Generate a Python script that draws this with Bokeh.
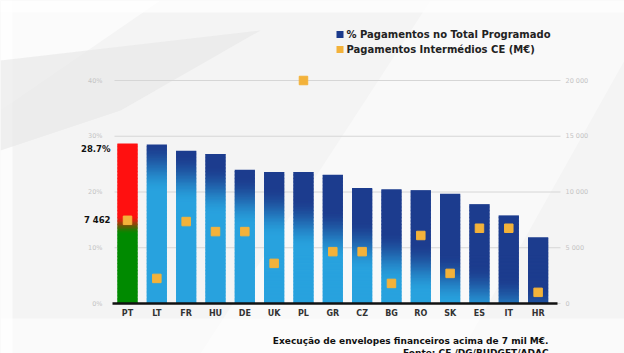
from bokeh.plotting import figure
from bokeh.models import Range1d, ColumnDataSource
from bokeh.core.properties import value
from bokeh.embed import file_html
from bokeh.resources import INLINE

cats = ["PT", "LT", "FR", "HU", "DE", "UK", "PL", "GR", "CZ", "BG", "RO", "SK", "ES", "IT", "HR"]
pct = [28.7, 28.5, 27.4, 26.8, 24.0, 23.6, 23.6, 23.1, 20.7, 20.5, 20.3, 19.7, 17.8, 15.8, 11.9]
pay = [7462, 2250, 7350, 6450, 6450, 3600, 20000, 4650, 4650, 1800, 6100, 2700, 6750, 6750, 1000]
left_ticks = [0, 10, 20, 30, 40]
left_labels = ["0%", "10%", "20%", "30%", "40%"]
right_ticks = [0, 5000, 10000, 15000, 20000]
right_labels = ["0", "5 000", "10 000", "15 000", "20 000"]
legend_labels = ["% Pagamentos no Total Programado", "Pagamentos Intermédios CE (M€)"]
note = "Execução de envelopes financeiros acima de 7 mil M€."
source_note = "Fonte: CE /DG/BUDGET/ADAC"

DARK = (28, 60, 142)
LIGHT = (40, 162, 222)
RED = (255, 16, 16)
GREEN = (0, 138, 0)
ORANGE = "#f3b23a"
FONT = "DejaVu Sans"

W, H = 624, 353
X0, DX = 127.0, 29.33      # pixel position of first category, category spacing
Y0, DY = 303.0, 5.575      # pixel position of 0 %, pixels per 1 %
PAY_PER_PCT = 500.0        # right axis: 20 000 M€ aligned with 40 %


def xd(px):
    return (px - X0) / DX


def yd(py):
    return (Y0 - py) / DY


def mix(a, b, t):
    t = max(0.0, min(1.0, t))
    t = t * t * (3 - 2 * t)
    return "#%02x%02x%02x" % tuple(int(round(a[k] + (b[k] - a[k]) * t)) for k in range(3))


idx = list(range(len(cats)))

# gradient slices built from the bar values
xs, bs, ts, cs = [], [], [], []
step = 0.25
for i, v in zip(idx, pct):
    k = 0
    while k * step < v:
        b = k * step
        t = min(v, (k + 1) * step)
        mid = (b + t) / 2
        if i == 0:
            col = mix(GREEN, RED, (mid - 12.5) / 3.5)
        else:
            lo = 22.0 - 2.0 * i
            col = mix(LIGHT, DARK, (mid - lo) / 9.0)
        xs.append(i); bs.append(max(0.0, b - 0.15)); ts.append(t); cs.append(col)
        k += 1
src = ColumnDataSource(dict(x=xs, b=bs, t=ts, c=cs))

p = figure(width=W, height=H, x_range=Range1d(xd(0), xd(W)), y_range=Range1d(yd(H), yd(0)),
           output_backend="svg", toolbar_location=None, min_border=0)
p.extra_y_ranges = {"pay": Range1d(yd(H) * PAY_PER_PCT, yd(0) * PAY_PER_PCT)}
p.axis.visible = False
p.grid.visible = False
p.outline_line_color = None
p.background_fill_color = "#f4f4f4"
p.border_fill_color = "#f4f4f4"

# soft background streaks
p.patch(x=[xd(0), xd(624), xd(624), xd(0)], y=[yd(0), yd(0), yd(12), yd(12)], fill_color="white", fill_alpha=0.7, line_color=None)
p.patch(x=[xd(0), xd(12), xd(12), xd(0)], y=[yd(0), yd(0), yd(353), yd(353)], fill_color="white", fill_alpha=0.7, line_color=None)
p.patch(x=[xd(0), xd(160), xd(0)], y=[yd(0), yd(0), yd(110)], fill_color="white", fill_alpha=0.6, line_color=None)
p.patch(x=[xd(0), xd(260), xd(120), xd(0)], y=[yd(60), yd(30), yd(110), yd(150)], fill_color="#e6e6e6", fill_alpha=0.6, line_color=None)
p.patch(x=[xd(200), xd(430), xd(624), xd(624), xd(460)], y=[yd(353), yd(0), yd(0), yd(60), yd(353)],
        fill_color="white", fill_alpha=0.45, line_color=None)
p.patch(x=[xd(0), xd(624), xd(624), xd(0)], y=[yd(318), yd(318), yd(353), yd(353)], fill_color="white", fill_alpha=0.5, line_color=None)

# gridlines
p.segment(x0=[xd(114)] * len(left_ticks), x1=[xd(560)] * len(left_ticks), y0=left_ticks, y1=left_ticks,
          line_color="#d6d6d6", line_width=1)

# bars
p.vbar(x="x", bottom="b", top="t", width=0.69, source=src, fill_color="c", line_color=None)

# baseline
p.segment(x0=[xd(112)], x1=[xd(557)], y0=[0], y1=[0], line_color="#111111", line_width=2.5)

# payment markers
p.scatter(x=idx, y=pay, marker="square", size=8.5, fill_color=ORANGE, line_color=ORANGE, y_range_name="pay")

# axis labels
p.text(x=[xd(102)] * len(left_ticks), y=left_ticks, text=left_labels, text_align="right", text_baseline="middle",
       text_font=value(FONT), text_font_size=value("6.5px"), text_color="#c4c4c4")
p.text(x=[xd(565)] * len(right_ticks), y=right_ticks, text=right_labels, text_align="left", text_baseline="middle",
       text_font=value(FONT), text_font_size=value("6.5px"), text_color="#c4c4c4", y_range_name="pay")
p.text(x=idx, y=[yd(312.5)] * len(cats), text=cats, text_align="center", text_baseline="middle",
       text_font=value(FONT), text_font_style="bold", text_font_size=value("8px"), text_color="#333333")

# PT value labels
p.text(x=[xd(110)], y=[pct[0] - 0.9], text=["%.1f%%" % pct[0]], text_align="right", text_baseline="middle",
       text_font=value(FONT), text_font_style="bold", text_font_size=value("8.5px"), text_color="#111111")
p.text(x=[xd(110)], y=[pay[0]], text=["7 462"], text_align="right", text_baseline="middle", y_range_name="pay",
       text_font=value(FONT), text_font_style="bold", text_font_size=value("8.5px"), text_color="#111111")

# legend
ly = [yd(34), yd(49)]
p.scatter(x=[xd(339.5)] * 2, y=ly, marker="square", size=7, fill_color=["#1b3a8c", ORANGE], line_color=None)
p.text(x=[xd(346)] * 2, y=ly, text=legend_labels, text_align="left", text_baseline="middle",
       text_font=value(FONT), text_font_style="bold", text_font_size=value("10px"), text_color="#222222")

# notes
p.text(x=[xd(548)], y=[yd(340)], text=[note], text_align="right", text_baseline="middle",
       text_font=value(FONT), text_font_style="bold", text_font_size=value("9px"), text_color="#111111")
p.text(x=[xd(548)], y=[yd(347)], text=[source_note], text_align="right", text_baseline="top",
       text_font=value(FONT), text_font_style="bold", text_font_size=value("9px"), text_color="#111111")

open("out.html", "w").write(file_html(p, INLINE))
